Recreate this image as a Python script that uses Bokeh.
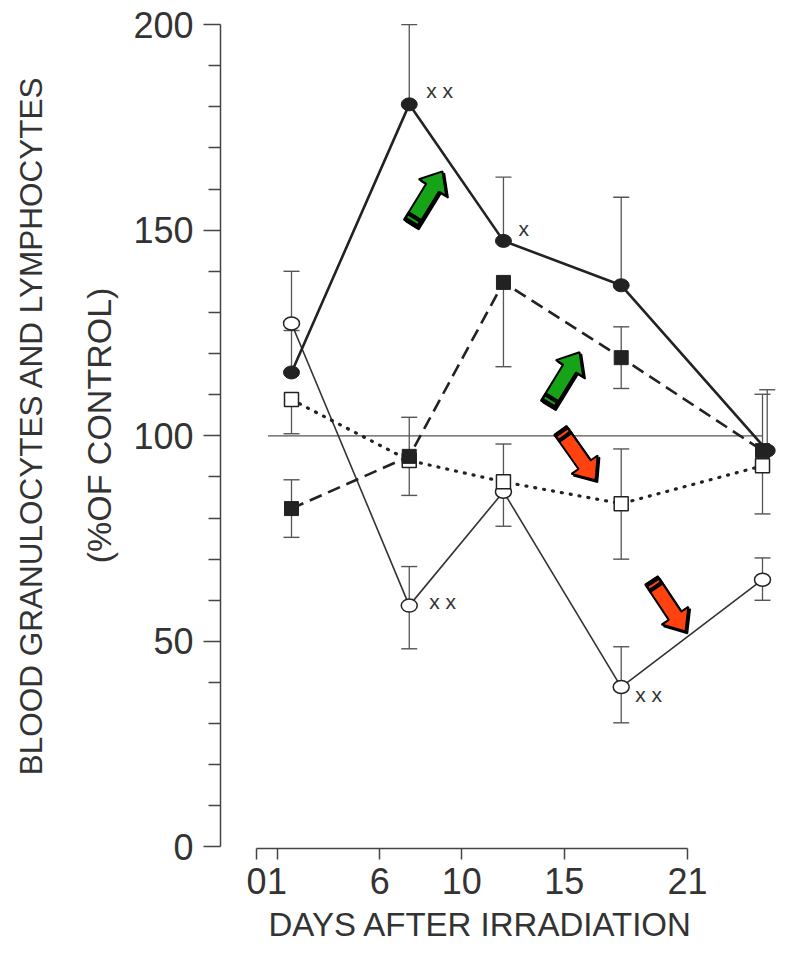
import math
from bokeh.plotting import figure
from bokeh.models import Range1d, LinearAxis, FixedTicker, Label, Title
from bokeh.embed import file_html
from bokeh.resources import INLINE

# ---------------- data ----------------
days = [1, 6, 10, 15, 21]
days_fc = [1, 6, 10, 15, 21.2]          # filled-circle series sits slightly right at day 21

# filled circles, thick solid line
fc_val = [115.4, 180.6, 147.4, 136.6, 96.4]
fc_up = [10.2, 19.4, 15.5, 21.4, 14.8]
fc_dn = [0, 0, 0, 0, 0]

# filled squares, dashed line
fs_val = [82.3, 95.0, 137.3, 119.0, 96.4]
fs_up = [7.0, 9.5, 0, 7.5, 13.7]
fs_dn = [7.0, 9.5, 20.5, 7.5, 0]

# open squares, dotted line
os_val = [108.8, 94.0, 88.8, 83.5, 92.7]
os_up = [0, 0, 9.2, 13.3, 0]
os_dn = [8.3, 0, 10.8, 13.5, 11.7]

# open circles, thin solid line
oc_val = [127.3, 58.7, 86.4, 38.9, 65.0]
oc_up = [12.7, 9.5, 0, 9.8, 5.3]
oc_dn = [0, 10.5, 0, 8.7, 5.0]

control_level = 100
x_ticks = [0, 1, 6, 10, 15, 21]
y_ticks = [0, 50, 100, 150, 200]
y_minor = [10, 20, 30, 40, 60, 70, 80, 90, 110, 120, 130, 140, 160, 170, 180, 190]

y_title_1 = "BLOOD GRANULOCYTES AND LYMPHOCYTES"
y_title_2 = "(%OF CONTROL)"
x_title = "DAYS AFTER IRRADIATION"

# ---------------- layout ----------------
W, H = 784, 950
ML, MT = 220, 2
FW, FH = 564, 846
MB = H - MT - FH
XR = (-2.015, 21.934)
YR = (-0.365, 205.37)
AXR = (-1.754, 25.726)
KX = FW / (XR[1] - XR[0])
KY = FH / (YR[1] - YR[0])

INK = "#222222"
TXT = "#333333"
ERR = "#555555"
FONT = "Liberation Sans"

p = figure(width=W, height=H, x_range=Range1d(*XR), y_range=Range1d(*YR),
           x_axis_location=None, output_backend="svg", toolbar_location=None,
           min_border_left=ML, min_border_right=0, min_border_top=MT,
           min_border_bottom=MB)
p.outline_line_color = None
p.grid.visible = False
p.background_fill_color = "white"
p.border_fill_color = "white"

ya = p.yaxis[0]
ya.ticker = FixedTicker(ticks=y_ticks, minor_ticks=y_minor)
ya.bounds = (0, 200)
ya.axis_line_color = "#444444"
ya.axis_line_width = 1.5
ya.major_tick_line_color = "#444444"
ya.major_tick_line_width = 1.5
ya.minor_tick_line_color = "#444444"
ya.minor_tick_line_width = 1.5
ya.major_tick_in = 0
ya.major_tick_out = 17
ya.minor_tick_in = 0
ya.minor_tick_out = 12
ya.major_label_text_font = FONT
ya.major_label_text_font_size = "36px"
ya.major_label_text_color = TXT
ya.major_label_standoff = 10
ya.axis_label = y_title_2
ya.axis_label_text_font = FONT
ya.axis_label_text_font_size = "34px"
ya.axis_label_text_font_style = "normal"
ya.axis_label_text_color = TXT
ya.axis_label_standoff = 12

ya2 = LinearAxis(ticker=FixedTicker(ticks=[]), axis_label=y_title_1)
ya2.axis_line_color = None
ya2.major_tick_out = 0
ya2.major_tick_in = 0
ya2.minor_tick_out = 0
ya2.minor_tick_in = 0
ya2.major_label_standoff = 0
ya2.axis_label_text_font = FONT
ya2.axis_label_text_font_size = "31.5px"
ya2.axis_label_text_font_style = "normal"
ya2.axis_label_text_color = TXT
ya2.axis_label_standoff = 29
p.add_layout(ya2, "left")

p.extra_x_ranges = {"ax": Range1d(*AXR)}
xa = LinearAxis(x_range_name="ax", ticker=FixedTicker(ticks=x_ticks), bounds=(0, 21))
xa.axis_line_color = "#444444"
xa.axis_line_width = 1.5
xa.major_tick_line_color = "#444444"
xa.major_tick_line_width = 1.5
xa.major_tick_in = 0
xa.major_tick_out = 11
xa.minor_tick_out = 0
xa.minor_tick_in = 0
xa.major_label_text_font = FONT
xa.major_label_text_font_size = "36px"
xa.major_label_text_color = TXT
xa.major_label_standoff = 8
p.add_layout(xa, "below")

p.add_layout(Title(text=x_title, align="left", offset=48, text_font=FONT,
                   text_font_size="33px", text_font_style="normal", text_color=TXT,
                   standoff=15), "below")

# control reference line
p.line([x_ticks[0], x_ticks[-1]], [control_level, control_level], line_color="#555555", line_width=1.3)


def errbars(xs, vals, ups, dns):
    sx, sy0, sy1, cx, cy = [], [], [], [], []
    for x, v, u, d in zip(xs, vals, ups, dns):
        if u > 0:
            sx.append(x); sy0.append(v); sy1.append(v + u); cx.append(x); cy.append(v + u)
        if d > 0:
            sx.append(x); sy0.append(v); sy1.append(v - d); cx.append(x); cy.append(v - d)
    p.segment(sx, sy0, sx, sy1, line_color=ERR, line_width=1.3)
    p.scatter(cx, cy, marker="dash", size=16, line_color=ERR, line_width=1.4)


errbars(days_fc, fc_val, fc_up, fc_dn)
errbars(days, fs_val, fs_up, fs_dn)
errbars(days, os_val, os_up, os_dn)
errbars(days, oc_val, oc_up, oc_dn)

p.line(days, oc_val, line_color="#333333", line_width=1.6)
p.line(days, os_val, line_color=INK, line_width=3.2, line_dash="1 8", line_cap="round")
p.line(days, fs_val, line_color=INK, line_width=2.6, line_dash="13 7")
p.line(days_fc, fc_val, line_color=INK, line_width=2.6)

p.ellipse(x=days, y=oc_val, width=16, height=13, width_units="screen", height_units="screen",
          fill_color="white", line_color=INK, line_width=1.5)
p.scatter(days, os_val, marker="square", size=14, fill_color="white", line_color=INK, line_width=1.5)
p.scatter(days, fs_val, marker="square", size=14, fill_color=INK, line_color=INK)
p.ellipse(x=days_fc, y=fc_val, width=16, height=13, width_units="screen", height_units="screen",
          fill_color=INK, line_color=INK)

# significance marks
sig_marks = [
    (days_fc[1], fc_val[1], "x x", 17, 14),
    (days_fc[2], fc_val[2], "x", 15, 12),
    (days[1], oc_val[1], "x x", 20, 4),
    (days[3], oc_val[3], "x x", 14, -7),
]
for x, y, t, dx, dy in sig_marks:
    p.add_layout(Label(x=x, y=y, text=t, x_offset=dx, y_offset=dy,
                       text_font=FONT, text_font_size="21px",
                       text_color=TXT, text_align="left", text_baseline="middle"))

# coloured arrows (tail, tip in data units)
arrows = [
    ((6.05, 151.6), (7.41, 164.3), "#17a317"),
    ((11.87, 107.6), (13.23, 120.3), "#17a317"),
    ((12.42, 101.3), (13.91, 89.2), "#ff4210"),
    ((16.29, 64.8), (17.73, 52.4), "#ff4210"),
]


def arrow_shapes(tail, tip, shaft=15.0, head_w=32.0, head_l=19.0, band=9.0, off=(0.0, 0.0)):
    tx, ty = tail[0] * KX + off[0], tail[1] * KY + off[1]
    hx, hy = tip[0] * KX + off[0], tip[1] * KY + off[1]
    L = math.hypot(hx - tx, hy - ty)
    ux, uy = (hx - tx) / L, (hy - ty) / L
    nx, ny = -uy, ux

    def pt(a, c):
        return ((tx + ux * a + nx * c) / KX, (ty + uy * a + ny * c) / KY)

    s = shaft / 2
    body = [pt(0, -s), pt(L - head_l, -s), pt(L - head_l, -head_w / 2), pt(L, 0),
            pt(L - head_l, head_w / 2), pt(L - head_l, s), pt(0, s)]
    bnd = [pt(0, -s), pt(band, -s), pt(band, s), pt(0, s)]
    stripe = [pt(3.5, -s + 1.5), pt(5.5, -s + 1.5), pt(5.5, s - 1.5), pt(3.5, s - 1.5)]
    return body, bnd, stripe


for tail, tip, col in arrows:
    shadow, _, _ = arrow_shapes(tail, tip, off=(2.0, -2.0))
    body, bnd, stripe = arrow_shapes(tail, tip)
    p.patch([q[0] for q in shadow], [q[1] for q in shadow], fill_color="black", line_color="black", line_width=1.5)
    p.patch([q[0] for q in body], [q[1] for q in body], fill_color=col, line_color="black", line_width=2)
    p.patch([q[0] for q in bnd], [q[1] for q in bnd], fill_color="black", line_color="black", line_width=1.5)
    p.patch([q[0] for q in stripe], [q[1] for q in stripe], fill_color=col, line_color=None)

open("out.html", "w").write(file_html(p, INLINE))
